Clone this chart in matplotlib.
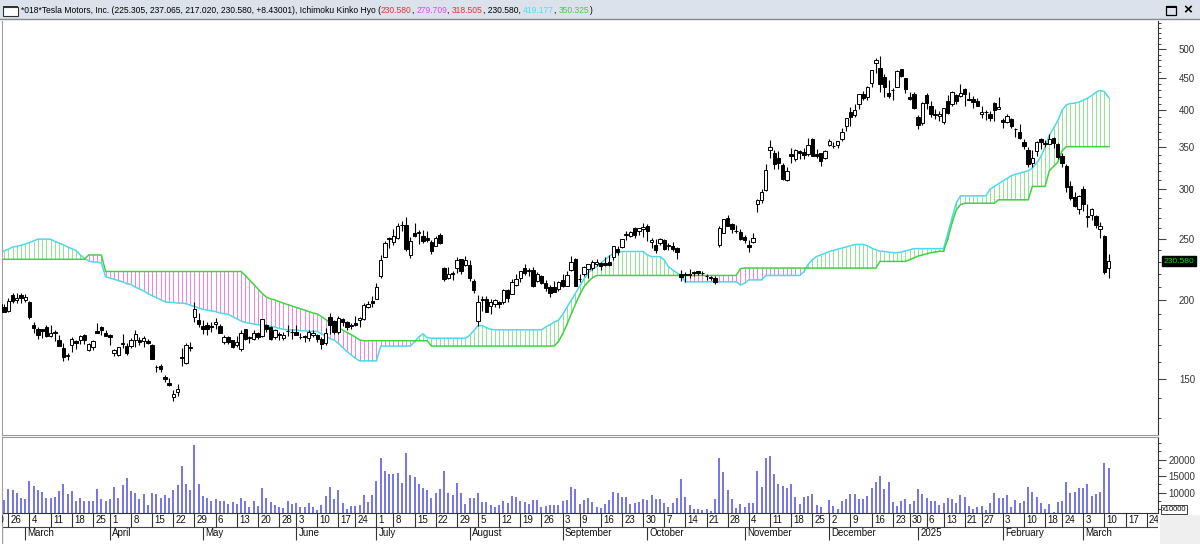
import numpy as np
import pandas as pd
import matplotlib
matplotlib.use('Agg')
import matplotlib.pyplot as plt
from matplotlib.patches import Rectangle
from matplotlib.lines import Line2D
from matplotlib.ticker import FixedLocator, NullFormatter

plt.rcParams['font.family'] = ['Liberation Sans', 'DejaVu Sans']

# ---- daily candles, Feb 20 2024 .. Mar 11 2025 (one row per week) ----
opens = [
    196.1, 193.4, 194.0, 195.3,
    192.3, 204.0, 200.4, 204.2, 200.5,
    198.7, 183.1, 179.9, 179.9, 181.5,
    175.5, 178.0, 173.1, 167.8, 163.2,
    170.0, 172.4, 173.0, 176.4, 166.7,
    168.8, 178.6, 181.4, 177.5,
    176.2, 164.8, 164.0, 170.3, 169.1,
    169.3, 172.9, 173.0, 172.6, 172.3,
    170.2, 156.7, 157.6, 151.3, 148.0,
    140.6, 143.3, 162.8, 158.9, 168.9,
    188.4, 186.0, 182.0, 182.9, 182.1,
    183.8, 182.4, 171.6, 175.0, 173.1,
    170.0, 167.4, 179.9, 174.1, 173.6,
    177.6, 175.5, 182.9, 181.8, 174.8,
    176.4, 174.2, 178.6, 178.5,
    178.1, 174.8, 175.4, 174.6, 176.1,
    176.1, 173.9, 171.1, 188.4, 185.8,
    177.9, 186.6, 184.7, 182.3,
    184.0, 186.5, 186.9, 195.2, 199.6,
    201.0, 218.9, 234.6, 249.8,
    247.7, 251.0, 262.8, 263.3, 235.8,
    255.3, 255.3, 252.7, 251.1, 247.8,
    244.2, 253.6, 225.4, 216.8, 221.2,
    224.9, 232.3, 227.9, 227.7, 214.9,
    185.2, 200.8, 200.8, 195.7, 197.1,
    199.0, 199.0, 207.4, 205.0, 211.2,
    217.1, 224.9, 222.7, 223.8, 214.5,
    218.8, 213.3, 209.7, 209.8, 208.6,
    215.3, 210.6, 223.5, 232.6,
    216.2, 220.1, 224.6, 224.7, 228.0,
    229.3, 229.5, 230.1, 234.0, 241.5,
    242.6, 254.1, 252.5, 260.6, 257.4,
    259.0, 262.7, 247.6, 244.5, 246.5,
    249.0, 243.6, 243.8, 241.8, 220.1,
    220.1, 220.0, 221.4, 222.5, 220.7,
    218.9, 217.3, 217.1, 244.7, 256.0,
    270.0, 264.5, 258.0, 257.0, 252.0,
    244.6, 247.3, 284.7, 288.9, 299.1,
    346.3, 342.7, 335.9, 327.7, 310.6,
    340.7, 335.5, 345.0, 343.8, 341.1,
    360.1, 341.0, 341.8, 336.1,
    352.4, 351.8, 353.0, 359.9, 377.4,
    397.6, 392.7, 409.7, 424.8, 420.0,
    441.1, 475.9, 466.5, 451.9, 425.5,
    431.0, 435.9, 465.2, 449.5,
    419.4, 423.8, 390.1, 381.5,
    423.2, 405.8, 392.9, 391.4,
    383.2, 414.3, 409.9, 423.5, 421.5,
    432.6, 416.8, 416.1, 414.5,
    394.8, 396.9, 395.2, 410.8, 401.5,
    386.7, 382.6, 387.5, 373.0, 370.2,
    356.2, 345.8, 329.9, 345.0, 360.6,
    355.0, 354.0, 361.5, 353.4,
    338.1, 327.0, 303.7, 291.2, 279.5,
    300.3, 270.9, 272.9, 272.1, 259.3,
    252.5, 225.305,
]
highs = [
    198.7, 199.4, 198.3, 197.6,
    201.8, 205.6, 205.3, 205.3, 204.5,
    199.8, 184.7, 181.6, 180.0, 182.7,
    182.9, 179.4, 176.1, 171.2, 165.2,
    174.7, 172.8, 176.3, 176.7, 171.2,
    173.2, 184.3, 181.9, 179.6,
    176.8, 167.7, 168.8, 177.2, 170.9,
    174.5, 179.2, 174.9, 175.9, 173.8,
    170.7, 158.2, 158.3, 152.2, 150.9,
    144.4, 147.3, 167.9, 170.9, 172.1,
    198.9, 190.9, 185.9, 184.6, 184.8,
    187.6, 183.3, 176.1, 175.6, 173.1,
    175.4, 179.5, 180.0, 175.8, 179.6,
    177.9, 186.9, 183.8, 181.9, 180.1,
    178.3, 178.2, 182.7, 180.3,
    182.6, 177.8, 176.0, 179.7, 179.4,
    176.6, 174.8, 180.6, 191.1, 186.0,
    188.8, 187.2, 185.2, 183.9,
    188.8, 188.0, 197.8, 199.8, 203.2,
    213.2, 236.3, 248.3, 252.4,
    259.4, 265.6, 267.6, 271.0, 251.8,
    265.6, 258.6, 258.5, 257.1, 249.4,
    253.2, 255.8, 225.9, 226.0, 222.3,
    234.3, 232.4, 234.7, 231.9, 216.1,
    203.9, 202.9, 203.5, 200.7, 200.7,
    199.3, 208.5, 208.4, 215.9, 219.8,
    222.9, 228.2, 224.7, 225.9, 221.5,
    219.1, 215.7, 211.8, 214.9, 214.6,
    219.9, 222.2, 235.0, 233.6,
    219.9, 226.4, 228.5, 231.5, 232.7,
    229.9, 234.6, 235.7, 244.2, 244.0,
    250.0, 257.2, 257.1, 261.8, 260.7,
    264.9, 263.9, 251.2, 249.8, 250.9,
    249.8, 246.2, 247.4, 242.8, 223.3,
    221.9, 224.3, 222.8, 222.8, 222.3,
    220.5, 218.2, 218.7, 262.1, 269.5,
    273.5, 265.0, 263.4, 259.8, 254.0,
    248.9, 255.3, 289.6, 299.8, 328.7,
    358.6, 345.8, 344.6, 330.0, 324.7,
    348.6, 347.4, 346.6, 348.0, 361.5,
    361.9, 347.0, 342.6, 345.5,
    360.0, 355.7, 358.1, 375.4, 389.5,
    404.8, 409.7, 424.9, 429.3, 436.3,
    463.2, 484.0, 488.5, 456.4, 447.1,
    434.5, 462.8, 465.3, 450.0,
    427.0, 427.9, 392.7, 411.9,
    426.4, 414.3, 402.5, 399.3,
    403.8, 422.6, 429.8, 424.0, 439.7,
    433.2, 428.0, 420.7, 418.9,
    406.7, 400.6, 398.6, 412.5, 420.0,
    389.2, 394.0, 388.4, 375.4, 380.5,
    360.0, 349.4, 346.4, 357.0, 362.0,
    359.1, 367.3, 362.3, 355.0,
    342.4, 328.9, 309.0, 297.2, 293.9,
    303.9, 284.4, 279.6, 272.7, 266.3,
    253.4, 237.065,
]
lows = [
    189.3, 191.1, 191.4, 191.5,
    192.0, 198.3, 198.4, 198.4, 198.5,
    187.0, 177.6, 173.7, 174.6, 174.7,
    174.9, 172.4, 169.2, 160.5, 160.8,
    165.9, 167.4, 170.8, 170.5, 166.3,
    166.9, 177.6, 176.1, 175.3,
    170.2, 163.4, 163.3, 168.0, 163.6,
    167.8, 168.6, 170.0, 168.5, 170.4,
    161.4, 153.8, 153.8, 148.7, 146.2,
    138.8, 141.1, 157.5, 158.4, 166.4,
    184.5, 181.3, 177.0, 176.0, 178.4,
    180.1, 177.4, 170.4, 170.7, 167.8,
    169.0, 166.0, 173.1, 171.4, 172.8,
    173.6, 174.7, 178.1, 173.3, 173.7,
    173.2, 173.0, 175.4, 173.8,
    176.2, 174.0, 172.0, 172.4, 175.2,
    171.8, 167.4, 169.8, 176.9, 176.9,
    177.0, 182.4, 179.7, 180.0,
    182.4, 181.8, 186.4, 194.2, 195.3,
    200.9, 217.2, 234.3, 242.5,
    244.6, 250.3, 257.9, 239.7, 233.1,
    251.7, 245.8, 246.2, 247.2, 236.8,
    243.8, 245.6, 214.7, 216.2, 215.3,
    220.6, 220.4, 226.6, 214.3, 205.7,
    182.0, 192.1, 191.5, 190.6, 195.0,
    194.7, 197.1, 198.8, 204.8, 210.8,
    214.1, 219.6, 218.9, 210.3, 214.2,
    212.1, 206.9, 202.6, 205.9, 207.0,
    209.6, 210.6, 222.3, 210.5,
    213.7, 218.6, 216.8, 223.8, 226.3,
    223.5, 226.6, 226.9, 232.1, 235.9,
    241.9, 249.1, 252.3, 251.5, 254.1,
    251.8, 248.5, 241.9, 237.8, 244.6,
    240.7, 240.6, 239.5, 232.3, 214.4,
    213.7, 217.1, 218.9, 219.5, 219.0,
    215.7, 215.3, 212.1, 242.7, 255.3,
    262.2, 255.5, 255.8, 249.3, 246.6,
    238.9, 246.5, 275.6, 285.5, 297.7,
    336.0, 323.3, 322.5, 310.4, 309.2,
    330.0, 332.8, 334.3, 335.3, 338.2,
    338.2, 335.7, 326.6, 334.7,
    351.2, 348.2, 348.6, 357.5, 370.8,
    378.0, 390.9, 402.4, 415.0, 415.7,
    436.2, 457.5, 427.0, 420.0, 417.6,
    415.4, 435.1, 451.1, 426.5,
    415.8, 402.5, 373.0, 379.5,
    401.7, 390.0, 387.4, 384.8,
    380.1, 394.5, 405.7, 409.1, 419.8,
    406.3, 414.6, 403.1, 405.8,
    389.0, 386.5, 384.5, 384.4, 401.3,
    374.4, 381.4, 375.5, 363.2, 360.3,
    347.0, 325.1, 325.1, 338.9, 347.5,
    350.0, 353.7, 348.0, 334.4,
    324.7, 297.2, 288.0, 280.9, 273.6,
    277.3, 261.8, 267.7, 260.0, 250.7,
    220.0, 217.02,
]
closes = [
    193.8, 194.8, 197.4, 192.0,
    199.4, 199.7, 202.0, 201.9, 202.6,
    188.1, 180.7, 176.5, 178.7, 175.3,
    177.8, 177.5, 169.5, 162.5, 163.6,
    173.8, 171.3, 175.7, 172.8, 170.8,
    172.6, 177.7, 179.8, 175.8,
    175.2, 166.6, 168.4, 171.1, 164.9,
    173.0, 176.9, 171.8, 174.6, 171.1,
    161.5, 157.1, 155.5, 149.9, 147.1,
    142.1, 144.7, 162.1, 170.2, 168.3,
    194.1, 183.3, 180.0, 180.0, 181.2,
    184.8, 177.8, 174.7, 172.0, 168.5,
    171.9, 177.6, 174.0, 174.8, 177.5,
    174.9, 186.6, 180.1, 173.7, 179.2,
    176.8, 176.2, 178.8, 178.1,
    176.3, 174.8, 175.0, 177.9, 177.5,
    173.8, 170.7, 177.3, 182.5, 178.0,
    187.4, 184.9, 181.6, 183.0,
    182.6, 187.4, 196.4, 197.4, 197.9,
    209.9, 231.3, 246.4, 251.5,
    252.9, 262.3, 263.3, 241.0, 248.2,
    252.6, 256.6, 248.5, 249.2, 239.2,
    251.5, 246.4, 216.0, 220.3, 219.8,
    232.1, 222.6, 232.1, 216.9, 207.7,
    198.9, 200.6, 191.8, 198.8, 200.0,
    197.5, 207.8, 201.4, 214.1, 216.1,
    222.7, 221.1, 223.3, 210.7, 220.3,
    213.2, 209.2, 205.8, 206.3, 214.1,
    210.6, 219.4, 230.2, 210.7,
    216.3, 226.2, 228.1, 229.8, 230.3,
    226.8, 227.9, 227.2, 243.9, 238.3,
    250.0, 254.3, 257.0, 254.2, 260.5,
    261.6, 258.0, 249.0, 240.7, 250.1,
    240.8, 244.5, 241.1, 238.8, 217.8,
    219.2, 219.6, 221.3, 220.9, 220.7,
    218.9, 218.0, 213.7, 260.5, 269.2,
    262.5, 259.5, 257.6, 249.9, 249.0,
    242.8, 251.4, 288.5, 296.9, 321.2,
    350.0, 328.5, 330.2, 311.2, 320.7,
    338.7, 346.0, 342.0, 339.6, 352.6,
    338.6, 338.2, 332.9, 345.2,
    357.1, 351.4, 357.9, 369.5, 389.2,
    389.8, 401.0, 424.8, 418.1, 436.2,
    463.0, 479.9, 440.1, 436.2, 421.1,
    430.6, 462.3, 454.1, 431.7,
    417.4, 403.8, 379.3, 410.4,
    411.1, 394.4, 394.9, 394.7,
    403.3, 396.4, 428.2, 413.8, 426.5,
    424.1, 415.1, 412.4, 406.6,
    397.2, 398.1, 389.1, 400.3, 404.6,
    383.7, 392.2, 378.2, 374.3, 361.6,
    350.7, 328.5, 336.5, 355.9, 355.8,
    354.1, 360.6, 354.4, 337.8,
    330.5, 302.8, 290.8, 282.0, 293.0,
    284.7, 272.0, 279.1, 263.5, 262.7,
    222.15, 230.58,
]

# Ichimoku cloud (senkou span A = cyan, span B = green), read per bar
senkou_a = [
    236, 237, 238, 239.5, 241, 243, 243.5, 244.5, 245.5, 247,
    248.5, 250, 250, 250, 250, 248, 246.5, 245, 243, 241.5,
    240, 236, 233, 231, 230, 230, 229, 218, 217, 216,
    215, 214, 212.5, 212, 210, 208.5, 207, 205, 203.5, 202,
    200.5, 199, 198.5, 198.5, 198, 198, 197.6, 196.5, 195.5, 194.5,
    193.5, 193, 192.5, 192, 191, 190.5, 190, 188.5, 187, 185.5,
    184.5, 184, 183.5, 183, 183, 182.7, 182, 181.5, 180.5, 180,
    179.6, 179.5, 179.5, 179, 179, 178.6, 178.6, 178.6, 177, 175.5,
    174, 173, 171, 168.5, 166, 164, 162, 160.4, 160.4, 160.4,
    160.4, 160.4, 169.3, 169.3, 169.3, 169.3, 169.3, 169.3, 169.3, 169.3,
    172, 175, 177, 174.5, 174.2, 174.2, 174.2, 174.2, 174.2, 174.2,
    174.2, 174.2, 174.2, 176, 179, 182.4, 182.4, 181, 180, 179.6,
    179.6, 179.6, 179.6, 179.6, 179.6, 179.6, 179.6, 179.6, 179.6, 179.6,
    179.6, 181.5, 183, 184.8, 186, 190, 195, 200, 205, 210.6,
    216, 221, 224, 226, 229, 232, 235, 237, 238, 239,
    239, 239, 239, 239, 239, 236, 234.6, 234.6, 234.6, 231.8,
    226, 223.5, 221, 219, 214, 214, 214, 214, 214, 214,
    214, 214, 214, 214, 214, 214, 214, 211.5, 213, 215.5,
    215.5, 215.5, 215.5, 219, 219, 219, 219, 219, 219, 219,
    219, 219, 222, 228, 232, 234.6, 236, 237.5, 239, 240,
    241, 242, 243, 244, 245.2, 245.2, 245.2, 244, 242, 240.5,
    239.2, 239, 238.5, 238, 237.9, 238.5, 239.5, 240.5, 241.5, 241.5,
    241.5, 241.5, 241.5, 241.5, 241.5, 241.5, 255, 270, 285, 292.8,
    292.8, 292.8, 292.8, 292.8, 292.8, 292.8, 300, 303, 306, 309,
    312, 315, 316.8, 318, 319.5, 320.8, 324, 330, 338, 350,
    365, 375, 385, 400, 408, 410, 410.6, 412, 415, 418,
    422, 427, 430, 428, 419.177,
]
senkou_b = [
    232.3, 232.3, 232.3, 232.3, 232.3, 232.3, 232.3, 232.3, 232.3, 232.3,
    232.3, 232.3, 232.3, 232.3, 232.3, 232.3, 232.3, 232.3, 232.3, 232.3,
    232.3, 232.3, 232.3, 236, 236, 236, 236, 222.2, 222.2, 222.2,
    222.2, 222.2, 222.2, 222.2, 222.2, 222.2, 222.2, 222.2, 222.2, 222.2,
    222.2, 222.2, 222.2, 222.2, 222.2, 222.2, 222.2, 222.2, 222.2, 222.2,
    222.2, 222.2, 222.2, 222.2, 222.2, 222.2, 222.2, 222.2, 222.2, 222.2,
    219, 215.5, 212, 208.5, 205, 202.4, 201, 200.3, 199, 198,
    197, 196, 195, 194, 193, 192, 191, 190.3, 188.5, 186.5,
    184.5, 182.7, 181, 179.5, 178, 176.5, 175, 173.1, 172.6, 172.6,
    172.6, 172.6, 172.6, 172.6, 172.6, 172.6, 172.6, 172.6, 172.6, 172.6,
    172.6, 172.6, 172.6, 172.6, 169.3, 169.3, 169.3, 169.3, 169.3, 169.3,
    169.3, 169.3, 169.3, 169.3, 169.3, 169.3, 169.3, 169.3, 169.3, 169.3,
    169.3, 169.3, 169.3, 169.3, 169.3, 169.3, 169.3, 169.3, 169.3, 169.3,
    169.3, 169.3, 169.3, 169.3, 172, 177, 183, 190, 197, 204,
    210, 214, 217, 219, 219, 219, 219, 219, 219, 219,
    219, 219, 219, 219, 219, 219, 219, 219, 219, 219,
    219, 219, 219, 219, 219, 219, 219, 219, 219, 219,
    219, 219, 219, 219, 219, 219, 219, 224.5, 225, 225,
    225, 225, 225, 225, 225, 225, 225, 225, 225, 225,
    225, 225, 225, 225, 225, 225, 225, 225, 225, 225,
    225, 225, 225, 225, 225, 225, 225, 225, 225, 225,
    230.5, 230.5, 230.5, 230.5, 230.5, 230.5, 230.5, 232, 233.5, 235,
    236, 237, 238, 238.5, 239.2, 239.2, 250, 265, 278, 283.6,
    285, 285, 285, 285, 285, 285, 285, 285, 288.6, 288.6,
    288.6, 288.6, 288.6, 288.6, 288.6, 288.6, 303, 303, 303, 303,
    320.8, 326, 331, 345, 350.3, 350.3, 350.3, 350.3, 350.3, 350.3,
    350.3, 350.3, 350.3, 350.3, 350.325,
]

# volume in units of 10000 shares
volume = [
    10400, 10300, 9200, 7800, 11100, 10800, 9900, 8500, 8200, 13400,
    12000, 10800, 10300, 8500, 8500, 8800, 10500, 12700, 9700, 10500,
    7600, 8300, 7300, 7600, 7300, 11200, 8200, 7600, 8200, 11700,
    8300, 12300, 14400, 10400, 10000, 8100, 9700, 6300, 9800, 9700,
    8300, 9300, 8500, 10700, 12400, 18200, 12700, 10800, 24300, 12700,
    9100, 8500, 7500, 8100, 7300, 7600, 6600, 7000, 6600, 8300,
    7600, 5700, 7300, 5900, 11300, 8500, 7000, 6300, 5700, 5200,
    7600, 6600, 6800, 5700, 5600, 6800, 5600, 4700, 6300, 9000,
    11800, 8200, 10800, 6800, 5000, 5900, 5900, 6300, 9300, 7000,
    9300, 13600, 20500, 16600, 15600, 15700, 15900, 12900, 22100, 15400,
    14600, 12700, 11300, 10800, 8500, 9800, 11000, 16700, 9900, 9300,
    12900, 9800, 6600, 8300, 8300, 9800, 7000, 7000, 6300, 5700,
    6300, 7500, 6800, 9000, 8800, 7600, 7000, 6600, 7800, 7800,
    5700, 6000, 6300, 6300, 6300, 7500, 7800, 11800, 11000, 6600,
    7800, 8300, 7000, 5700, 5400, 6600, 7800, 10200, 9900, 8600,
    8800, 6500, 6700, 7100, 8000, 7700, 9300, 8000, 8200, 6800,
    5600, 6700, 8300, 14200, 8600, 6200, 5000, 5000, 4800, 5000,
    4300, 8000, 20400, 16200, 10700, 8000, 5400, 6600, 5700, 6800,
    6900, 16500, 11700, 20400, 21000, 15500, 12500, 12000, 11400, 12600,
    8800, 6600, 8700, 8900, 9500, 6200, 5700, 3720, 7700, 5800,
    5000, 7500, 8100, 9600, 9700, 8200, 8100, 8900, 11400, 13100,
    14900, 11200, 13200, 7200, 5900, 7600, 8200, 6400, 7600, 11000,
    9500, 8500, 7500, 7300, 6200, 6700, 8400, 8100, 6800, 9400,
    8700, 6000, 5000, 5600, 5800, 4800, 6800, 9800, 8300, 8300,
    9200, 5550, 7770, 6770, 7470, 11830, 10300, 8600, 6770, 4940,
    6560, 4210, 7260, 7470, 13350, 9800, 10100, 11340, 11340, 12650,
    9100, 9600, 10100, 18960, 17440,
]

holidays = ['2024-03-29', '2024-05-27', '2024-06-19', '2024-07-04', '2024-09-02',
            '2024-11-28', '2024-12-25', '2025-01-01', '2025-01-09', '2025-01-20',
            '2025-02-17']
price_ticks = [150, 200, 250, 300, 350, 400, 450, 500]
vol_ticks = [10000, 15000, 20000]

o = np.array(opens); h = np.array(highs); l = np.array(lows); c = np.array(closes)
a = np.array(senkou_a, dtype=float); b = np.array(senkou_b, dtype=float)
v = np.array(volume, dtype=float)
n = len(c)
assert len(o) == len(h) == len(l) == n == len(a) == len(b) == len(v), \
    (len(o), len(h), len(l), n, len(a), len(b), len(v))
idx = np.arange(n)

days = pd.bdate_range('2024-02-20', '2025-03-31')
days = days[~days.isin(pd.to_datetime(holidays))]

W, H = 1200, 544
fig = plt.figure(figsize=(W / 100, H / 100), dpi=100)
fig.patch.set_facecolor('white')


def box(x0, y0, x1, y1):
    return [x0 / W, 1 - y1 / H, (x1 - x0) / W, (y1 - y0) / H]


def prect(x0, y0, x1, y1, **kw):
    r = Rectangle((x0 / W, 1 - y1 / H), (x1 - x0) / W, (y1 - y0) / H,
                  transform=fig.transFigure, **kw)
    fig.add_artist(r)
    return r


AX_R = 1158.3
ax = fig.add_axes(box(1.5, 21, AX_R, 435))
axv = fig.add_axes(box(1.5, 437.3, AX_R, 513.3), sharex=ax)
axd = fig.add_axes(box(1.5, 513.3, AX_R, 544), sharex=ax)
ax.set_xlim(2.4, 275.75)

# ---- price panel ----
ax.set_yscale('log')
lo, hi = np.log(l.min()), np.log(h.max())
rng = hi - lo
ax.set_ylim(np.exp(lo - 0.1 * rng), np.exp(hi + 0.1 * rng))

up_cloud = a >= b
ax.vlines(idx, np.minimum(a, b), np.maximum(a, b),
          colors=np.where(up_cloud, '#8ee68e', '#f07ef0'), lw=0.7, zorder=1)
ax.plot(idx, a, color='#4fd8ea', lw=1.1, zorder=2)
ax.plot(idx, b, color='#3ed43e', lw=1.1, zorder=2)

ax.vlines(idx, l, h, color='black', lw=0.8, zorder=3)
up = c >= o
dn = ~up
ax.bar(idx[up], (c - o)[up], bottom=o[up], width=0.8, facecolor='white',
       edgecolor='black', linewidth=0.7, zorder=4)
ax.bar(idx[dn], (o - c)[dn], bottom=c[dn], width=0.8, facecolor='black',
       edgecolor='black', linewidth=0.7, zorder=4)

ax.yaxis.tick_right()
ax.set_yticks(price_ticks, labels=[str(t) for t in price_ticks])
ax.yaxis.set_minor_locator(FixedLocator([t for t in range(120, 560, 10) if t not in price_ticks]))
ax.yaxis.set_minor_formatter(NullFormatter())
ax.tick_params(axis='y', which='major', direction='out', length=5.5, width=0.8,
               color='#444444', labelsize=7, labelcolor='#333333', pad=20.9)
ax.tick_params(axis='y', which='minor', direction='out', length=2.5, width=0.7,
               color='#444444')
for lab in ax.get_yticklabels():
    lab.set_horizontalalignment('right')
ax.tick_params(axis='x', which='both', bottom=False, labelbottom=False)
ax.spines['top'].set_visible(False)
ax.spines['left'].set_color('#a0a0a0')
ax.spines['bottom'].set_color('#9a9a9a')
ax.spines['right'].set_color('#333333')

ax.annotate(f'{c[-1]:.3f}', xy=(1.0, c[-1]), xycoords=('axes fraction', 'data'),
            xytext=(5, 0), textcoords='offset pixels', ha='left', va='center',
            fontsize=6.1, color='#18e018', annotation_clip=False,
            bbox=dict(boxstyle='square,pad=0.18', fc='black', ec='black'))

# ---- volume panel ----
vmin, vmax = v.min(), v.max()
axv.set_ylim(vmin, vmin + (vmax - vmin) * 1.12)
axv.vlines(idx, vmin, v, color='#5c5ce4', lw=1.2)
axv.yaxis.tick_right()
axv.set_yticks(vol_ticks, labels=[str(t) for t in vol_ticks])
axv.yaxis.set_minor_locator(FixedLocator([5000, 7500, 12500, 17500, 22500, 25000]))
axv.tick_params(axis='y', which='major', direction='out', length=5.5, width=0.8,
                color='#444444', labelsize=7, labelcolor='#333333', pad=20.9)
axv.tick_params(axis='y', which='minor', direction='out', length=2.5, width=0.7,
                color='#444444')
for lab in axv.get_yticklabels():
    lab.set_horizontalalignment('right')
axv.tick_params(axis='x', which='both', bottom=False, labelbottom=False)
axv.spines['top'].set_color('#9a9a9a')
axv.spines['left'].set_color('#a0a0a0')
axv.spines['bottom'].set_color('#333333')
axv.spines['right'].set_color('#333333')

# ---- date axis ----
axd.set_ylim(0, 1)
axd.axis('off')
axd.axhline(0.554, color='#444444', lw=0.8)
axd.axvline(axd.get_xlim()[0], color='#a0a0a0', lw=1)
week_starts = [k for k in range(len(days)) if k == 0 or days[k].weekday() < days[k - 1].weekday()]
month_starts = [k for k in range(1, len(days)) if days[k].month != days[k - 1].month]
for k in week_starts:
    axd.vlines(k, 0.554, 1, color='#333333', lw=0.8)
    axd.text(k + 0.55, 0.77, str(days[k].day), fontsize=7, ha='left', va='center',
             color='#111111', clip_on=True)
for k in month_starts:
    name = str(days[k].year) if days[k].month == 1 else days[k].strftime('%B')
    axd.vlines(k, 0.12, 0.554, color='#333333', lw=0.8)
    axd.text(k + 0.55, 0.36, name, fontsize=7, ha='left', va='center',
             color='#111111', clip_on=True)

# bottom right corner and unit label
prect(1160, 515, 1200, 544, facecolor='#efefef', edgecolor='none')
fig.text(1161.5 / W, 1 - 509.3 / H, 'x10000', fontsize=5.4, ha='left', va='center',
         bbox=dict(boxstyle='square,pad=0.12', fc='white', ec='#222222', lw=0.6))

# ---- title bar ----
prect(0, 0, 1200, 18.5, facecolor='#dbe2eb', edgecolor='none')
fig.add_artist(Line2D([0, 1], [1 - 19 / H, 1 - 19 / H], color='#8a8a8a', lw=1,
                      transform=fig.transFigure))
prect(3, 6.5, 18, 16, facecolor='white', edgecolor='#333333', lw=0.8)
prect(3, 6.5, 18, 8, facecolor='#333333', edgecolor='none')
prect(1166, 6, 1176, 15, facecolor='none', edgecolor='black', lw=0.9)
prect(1166, 6, 1176, 7.5, facecolor='black', edgecolor='none')
fig.text(1188 / W, 1 - 10.5 / H, '\u00d7', fontsize=11, fontweight='bold',
         ha='center', va='center', color='black')

parts = [
    ('*018*Tesla Motors, Inc. (225.305, 237.065, 217.020, 230.580, +8.43001), Ichimoku Kinko Hyo (', 'black'),
    ('230.580', '#e3303c'), (', ', 'black'), ('279.709', '#e048e6'), (', ', 'black'),
    ('318.505', '#e3303c'), (', 230.580, ', 'black'), ('419.177', '#52dcee'),
    (', ', 'black'), ('350.325', '#3cd43c'), (')', 'black'),
]
TFS = 6.15
renderer = fig.canvas.get_renderer()


def text_w(s):
    if not s:
        return 0.0
    t1 = fig.text(0, 0, s + 'I', fontsize=TFS)
    t2 = fig.text(0, 0, 'I', fontsize=TFS)
    w = t1.get_window_extent(renderer).width - t2.get_window_extent(renderer).width
    t1.remove(); t2.remove()
    return w


# each segment starts where the whole preceding string would end
prefix = ''
for s, col in parts:
    x = 21 + text_w(prefix)
    fig.text(x / W, 1 - 10.5 / H, s, fontsize=TFS, color=col, ha='left', va='center')
    prefix += s

fig.savefig('out.png', dpi=100)
